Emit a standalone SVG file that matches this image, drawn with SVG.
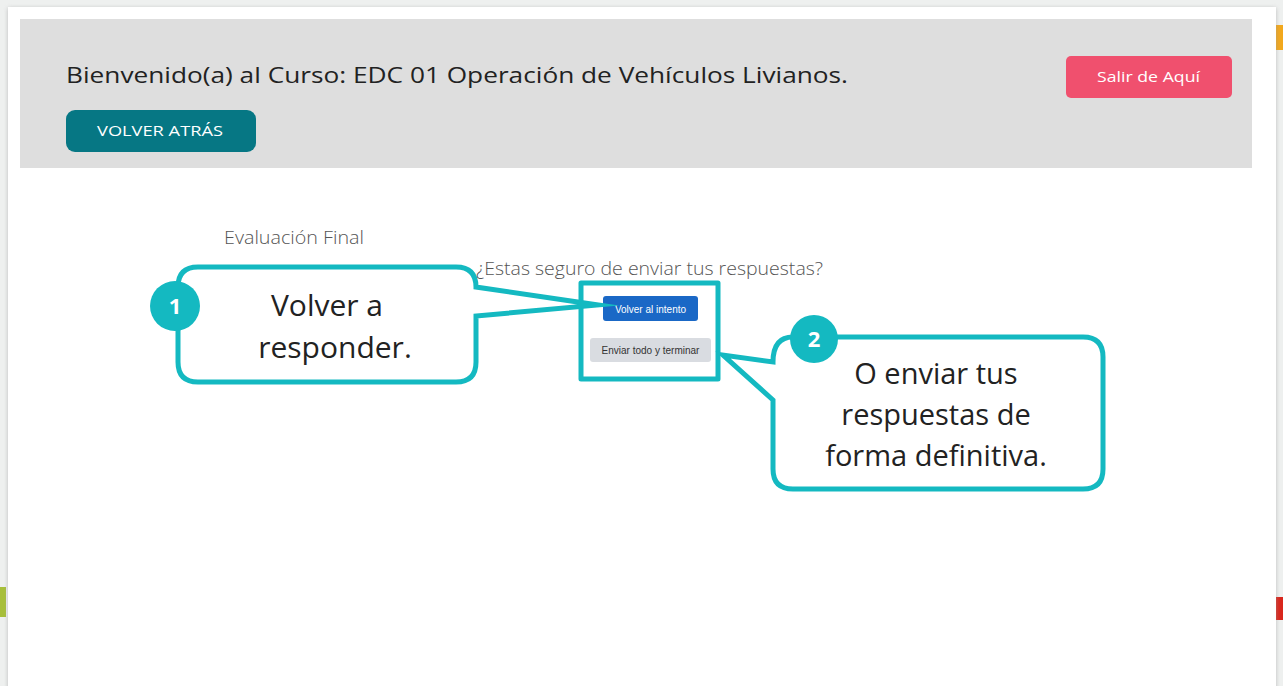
<svg xmlns="http://www.w3.org/2000/svg" width="1283" height="686" viewBox="0 0 1283 686">
<defs>
<style>
.hdr{font-family:"Open Sans","Liberation Sans",sans-serif;}
.light{font-family:"Open Sans","Liberation Sans",sans-serif;font-weight:300;fill:#555;}
.call{font-family:"Open Sans","Noto Sans","Liberation Sans",sans-serif;fill:#222;text-anchor:middle;}
.teal{fill:none;stroke:#14b9c1;stroke-width:5;stroke-linejoin:round;}
.bubble{fill:#fff;stroke:#14b9c1;stroke-width:5;stroke-linejoin:miter;stroke-miterlimit:10;}
.badge{fill:#14b9c1;}
.bnum{font-family:"Open Sans","Liberation Sans",sans-serif;font-weight:700;font-size:22px;fill:#fff;text-anchor:middle;}
.btn{font-family:"Liberation Sans",Arial,sans-serif;font-size:10px;text-anchor:middle;}
</style>
<filter id="sh" x="-5%" y="-5%" width="110%" height="110%">
<feGaussianBlur stdDeviation="2"/>
</filter>
</defs>
<rect width="1283" height="686" fill="#eef0ef"/>
<rect x="1276" y="25" width="7" height="25" fill="#f2a81d"/>
<rect x="1276" y="597" width="7" height="23" fill="#d9261c"/>
<rect x="0" y="587" width="6" height="30" fill="#a7bf3a"/>
<rect x="8" y="8" width="1268" height="690" fill="#9a9a9a" filter="url(#sh)" opacity="0.6"/>
<rect x="8" y="7" width="1268" height="690" fill="#ffffff"/>

<g id="header">
<rect x="20" y="19" width="1232" height="149" fill="#dedede"/>
<text class="hdr" x="66" y="83" font-size="22" fill="#222" textLength="782" lengthAdjust="spacingAndGlyphs">Bienvenido(a) al Curso: EDC 01 Operación de Vehículos Livianos.</text>
</g>
<g id="btn-salir">
<rect x="1066" y="56" width="166" height="42" rx="5" fill="#f0506e"/>
<text class="hdr" x="1097" y="82" font-size="15" fill="#fff" textLength="103" lengthAdjust="spacingAndGlyphs">Salir de Aquí</text>
</g>
<g id="btn-volver">
<rect x="66" y="110" width="190" height="42" rx="9" fill="#067784"/>
<text class="hdr" x="97" y="136" font-size="15" fill="#fff" textLength="126" lengthAdjust="spacingAndGlyphs">VOLVER ATRÁS</text>
</g>

<g id="content">
<text class="light" x="224" y="244" font-size="19" textLength="140" lengthAdjust="spacingAndGlyphs">Evaluación Final</text>
<text class="light" x="476" y="275" font-size="19" textLength="347" lengthAdjust="spacingAndGlyphs">¿Estas seguro de enviar tus respuestas?</text>
</g>
<g id="btn-intento">
<rect x="603" y="296" width="95" height="25" rx="3" fill="#1a68c6"/>
<text class="btn" x="650.5" y="312.5" fill="#fff">Volver al intento</text>
</g>
<g id="btn-enviar">
<rect x="590" y="338" width="121" height="24" rx="3" fill="#d9dce1"/>
<text class="btn" x="650.5" y="354" fill="#333">Enviar todo y terminar</text>
</g>
<g id="highlight">
<rect class="teal" x="581" y="283" width="137" height="96"/>
</g>

<g id="callout1">
<path class="bubble" d="M198 267 H456 Q476 267 476 287 L598 305 L476 316 V362 Q476 382 456 382 H198 Q178 382 178 362 V287 Q178 267 198 267 Z"/>
<circle class="badge" cx="175" cy="306" r="25"/>
<text class="bnum" x="175" y="314">1</text>
<text class="call" x="327" y="316" font-size="30">Volver a</text>
<text class="call" x="335" y="358" font-size="30">responder.</text>
</g>

<g id="callout2">
<path class="bubble" d="M793 337 H1083 Q1103 337 1103 357 V469 Q1103 489 1083 489 H793 Q773 489 773 469 V400 L723 355 L773 362 Q773 337 793 337 Z"/>
<circle class="badge" cx="814" cy="339" r="24"/>
<text class="bnum" x="814" y="347">2</text>
<text class="call" x="936" y="384" font-size="29">O enviar tus</text>
<text class="call" x="936" y="425" font-size="29">respuestas de</text>
<text class="call" x="936" y="466" font-size="29">forma definitiva.</text>
</g>
</svg>
